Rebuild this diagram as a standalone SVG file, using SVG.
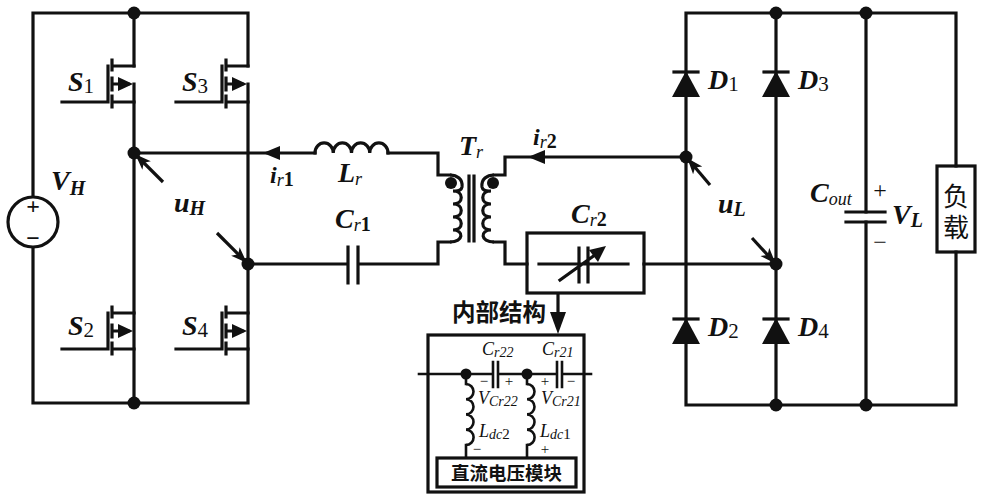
<svg xmlns="http://www.w3.org/2000/svg" width="983" height="500" viewBox="0 0 983 500">
<style>
.w{fill:none;stroke:#111;stroke-width:3.2;stroke-linecap:square;stroke-linejoin:miter}
.a{fill:none;stroke:#111;stroke-width:3.2}
.f{fill:#111;stroke:none}
text{fill:#111;font-family:"Liberation Serif","Noto Sans CJK SC",serif}
.m{font-size:28px;font-weight:bold;font-style:italic}
.i{font-size:18px;font-style:italic}
.sm{font-size:20px;font-style:italic;font-weight:bold}
.r{font-size:18px;font-style:italic;font-weight:normal}
.d{font-size:21px;font-style:normal;font-weight:normal}
.b{font-size:20px;font-style:normal;font-weight:bold}
.ss{font-size:14px;font-style:italic;font-weight:normal}
.sn{font-size:15px;font-style:normal;font-weight:normal}
.p{font-size:24px;font-weight:normal;text-anchor:middle}
.ps{font-size:15px;font-weight:normal;text-anchor:middle}
.c{font-family:"Noto Sans CJK SC","Liberation Sans",sans-serif}
</style>
<defs>
<marker id="a" markerUnits="userSpaceOnUse" markerWidth="16" markerHeight="14" refX="15" refY="7" orient="auto"><path d="M0,1L16,7L0,13L4,7Z" fill="#111"/></marker>
<g id="mos">
<path class="w" d="M108,66V100M112,60V70M112,78V90M112,96V107M112,66H134M112,84H128M62,102H108M112,102H134"/>
<path class="f" d="M118,77L133,84L118,91Z"/>
</g>
<g id="dio">
<path class="f" d="M0,-1L14,25H-14Z"/>
<path class="w" d="M-12,0H12"/>
</g>
</defs>

<g id="connectors">
<path class="w" d="M33,196V13H248V66M134,13V66M134,84V403M248,84V403M33,248V403H248"/>
<path class="w" d="M134,153H315M388,153H438V175H450M438,264V242H450M248,264H346M360,264H438"/>
<path class="w" d="M315,153a9.1,10 0 0 1 18.25,0a9.1,10 0 0 1 18.25,0a9.1,10 0 0 1 18.25,0a9.1,10 0 0 1 18.25,0"/>
<path class="w" d="M686,157H505V175H494M494,242H505V264H527M644,264H776"/>
<path class="w" d="M686,13H956V166M956,252V405H686V13M776,13V405M866,13V212M866,222V405"/>
<path class="f" d="M263,153L280,146V160Z"/>
<path class="f" d="M528,157L545,150V164Z"/>
<path class="a" marker-end="url(#a)" d="M163,182L136,155"/>
<path class="a" marker-end="url(#a)" d="M217,233L246,262"/>
<path class="a" marker-end="url(#a)" d="M710,185L688,159"/>
<path class="a" marker-end="url(#a)" d="M752,238L775,263"/>
<path class="w" d="M558,294V316"/>
<path class="f" d="M558,334L550,312H566Z"/>
</g>

<g id="node-VH">
<circle cx="33" cy="222" r="25" class="w"/>
<text class="p" x="33" y="214" style="font-weight:bold">+</text>
<text class="p" x="33" y="246" style="font-weight:bold">−</text>
<text class="m" x="51" y="190">V<tspan class="sm" dy="5">H</tspan></text>
</g>
<g id="node-S1"><use href="#mos"/><text class="m" x="68" y="91">S<tspan class="d" dy="2">1</tspan></text></g>
<g id="node-S3"><use href="#mos" x="114"/><text class="m" x="182" y="91">S<tspan class="d" dy="2">3</tspan></text></g>
<g id="node-S2"><use href="#mos" y="247"/><text class="m" x="68" y="335">S<tspan class="d" dy="2">2</tspan></text></g>
<g id="node-S4"><use href="#mos" x="114" y="247"/><text class="m" x="182" y="335">S<tspan class="d" dy="2">4</tspan></text></g>

<g id="junctions">
<circle class="f" cx="134" cy="13" r="6.5"/><circle class="f" cx="134" cy="403" r="6.5"/>
<circle class="f" cx="134" cy="153" r="6.5"/><circle class="f" cx="248" cy="264" r="6.5"/>
<circle class="f" cx="686" cy="157" r="6.5"/><circle class="f" cx="776" cy="264" r="6.5"/>
<circle class="f" cx="776" cy="13" r="6.5"/><circle class="f" cx="866" cy="13" r="6.5"/>
<circle class="f" cx="776" cy="405" r="6.5"/><circle class="f" cx="866" cy="405" r="6.5"/>
</g>
<g id="labels-u">
<text class="m" x="174" y="212">u<tspan class="sm" dy="3">H</tspan></text>
<text class="m" x="718" y="213">u<tspan class="sm" dy="3">L</tspan></text>
</g>

<g id="node-Lr">
<text class="m" x="338" y="182">L<tspan class="r" dy="3">r</tspan></text>
<text class="m" x="270" y="183" style="font-size:24px">i<tspan class="r" dy="3">r</tspan><tspan class="b">1</tspan></text>
</g>
<g id="node-Cr1">
<path class="w" d="M348,247V283M358,247V283"/>
<text class="m" x="335" y="228">C<tspan class="r" dy="3">r</tspan><tspan class="b">1</tspan></text>
</g>
<g id="node-Tr">
<path class="w" d="M469,176V241M474,176V241"/>
<circle class="f" cx="451" cy="183" r="6"/><circle class="f" cx="493" cy="183" r="6"/>
<path class="w" style="stroke-linecap:butt" d="M450,175C457,175 463,179 462,187C461,192 456,191 453,191C464,191 464,204 453,204C464,204 464,217 453,217C464,217 464,230 453,230C464,230 464,242 450,242"/>
<path class="w" style="stroke-linecap:butt" d="M494,175C487,175 481,179 482,187C483,192 488,191 491,191C480,191 480,204 491,204C480,204 480,217 491,217C480,217 480,230 491,230C480,230 480,242 494,242"/>
<text class="m" x="459" y="155">T<tspan class="r" dy="3">r</tspan></text>
<text class="m" x="533" y="145" style="font-size:24px">i<tspan class="r" dy="3">r</tspan><tspan class="b">2</tspan></text>
</g>
<g id="node-Cr2">
<rect class="w" x="527" y="233" width="117" height="60"/>
<path class="w" d="M539,264H628M579,248V282M588,248V282M560,280L595,255"/>
<path class="f" d="M606,246L598,262L589,250Z"/>
<text class="m" x="571" y="223">C<tspan class="r" dy="3">r</tspan><tspan class="b">2</tspan></text>
</g>
<g id="node-D1"><use href="#dio" x="686" y="72"/><text class="m" x="708" y="89">D<tspan class="d" dy="2">1</tspan></text></g>
<g id="node-D3"><use href="#dio" x="776" y="72"/><text class="m" x="798" y="89">D<tspan class="d" dy="2">3</tspan></text></g>
<g id="node-D2"><use href="#dio" x="686" y="319"/><text class="m" x="708" y="336">D<tspan class="d" dy="2">2</tspan></text></g>
<g id="node-D4"><use href="#dio" x="776" y="319"/><text class="m" x="798" y="336">D<tspan class="d" dy="2">4</tspan></text></g>
<g id="node-Cout">
<path class="w" d="M846,212H885M846,222H885"/>
<text class="m" x="810" y="202">C<tspan class="r" dy="3">out</tspan></text>
<text class="m" x="892" y="224">V<tspan class="sm" dy="3">L</tspan></text>
<text class="p" x="880" y="198">+</text>
<text class="p" x="880" y="250">−</text>
</g>
<g id="node-load">
<rect class="w" x="937" y="166" width="38" height="86"/>
<text text-anchor="middle" style="font-size:26px" class="c"><tspan x="956" y="206">负</tspan><tspan x="956" y="237">载</tspan></text>
</g>

<g id="node-inner">
<text x="452" y="321" class="c" style="font-size:23.5px;font-weight:700">内部结构</text>
<rect class="w" x="428" y="335" width="156" height="157"/>
<path class="w" style="stroke-width:2.6" d="M419,374H493M498,374H557M562,374H591M466,374V384M466,445V457M527,374V384M527,445V457M493,362V387M498,362V387M557,362V387M562,362V387"/>
<path class="w" style="stroke-width:2.6;stroke-linecap:butt" d="M466,384a7.5,7.6 0 0 1 0,15.2a7.5,7.6 0 0 1 0,15.2a7.5,7.6 0 0 1 0,15.2a7.5,7.6 0 0 1 0,15.4M527,384a7.5,7.6 0 0 1 0,15.2a7.5,7.6 0 0 1 0,15.2a7.5,7.6 0 0 1 0,15.2a7.5,7.6 0 0 1 0,15.4"/>
<circle class="f" cx="466" cy="374" r="5.5"/><circle class="f" cx="527" cy="374" r="5.5"/>
<rect class="w" x="437" y="458" width="139" height="29"/>
<text x="506.5" y="480" text-anchor="middle" class="c" style="font-size:18.5px;font-weight:700">直流电压模块</text>
<text class="i" x="482" y="355">C<tspan class="ss" dy="2">r22</tspan></text>
<text class="i" x="542" y="355">C<tspan class="ss" dy="2">r21</tspan></text>
<text class="i" x="478" y="404">V<tspan class="ss" dy="2">Cr22</tspan></text>
<text class="i" x="541" y="404">V<tspan class="ss" dy="2">Cr21</tspan></text>
<text class="i" x="479" y="437">L<tspan class="ss" dy="2">dc</tspan><tspan class="sn">2</tspan></text>
<text class="i" x="540" y="437">L<tspan class="ss" dy="2">dc</tspan><tspan class="sn">1</tspan></text>
<text class="ps" x="484" y="386">−</text><text class="ps" x="509" y="386">+</text>
<text class="ps" x="545" y="386">+</text><text class="ps" x="571" y="386">−</text>
<text class="ps" x="477" y="454">−</text><text class="ps" x="545" y="454">+</text>
</g>
</svg>
